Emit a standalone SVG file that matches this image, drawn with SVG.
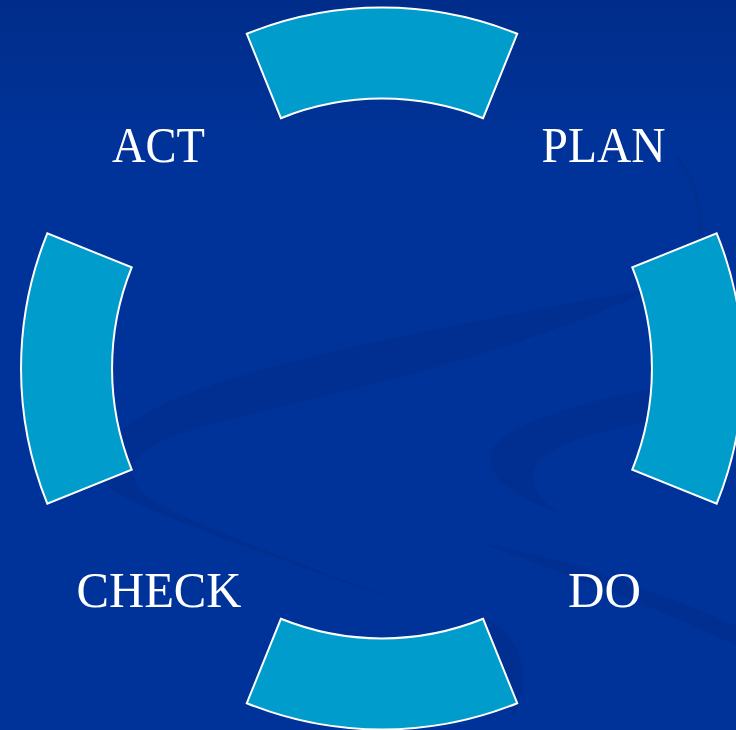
<svg xmlns="http://www.w3.org/2000/svg" width="736" height="730" viewBox="0 0 736 730">
  <defs>
    <linearGradient id="bg" x1="0" y1="0" x2="0" y2="1">
      <stop offset="0" stop-color="#002d8a"/>
      <stop offset="0.2" stop-color="#003399"/>
      <stop offset="1" stop-color="#003399"/>
    </linearGradient>
  </defs>
  <style>
    .seg { fill: #009dcc; stroke: #ffffff; stroke-width: 2; stroke-linejoin: miter; }
    .lbl { font-family: "Liberation Serif", "Times New Roman", serif; font-size: 50px; fill: #ffffff; text-anchor: middle; }
    .sw { fill: #002a85; opacity: 0.4; }
  </style>
  <rect x="0" y="0" width="736" height="730" fill="url(#bg)"/>
  <g id="background">
    <path class="sw" d="M655,288 C560,305 300,350 190,393 C120,420 90,450 105,485 C150,520 350,580 500,640 C380,592 230,540 160,505 C120,482 125,455 171,437 C250,407 480,372 655,288 Z"/>
    <path class="sw" d="M736,378 C640,385 520,415 495,445 C475,475 520,500 560,513 C530,495 525,470 545,455 C580,432 650,418 736,412 Z"/>
    <path class="sw" opacity="0.25" d="M480,543 C560,555 680,600 736,626 L736,645 C680,620 620,592 480,543 Z"/>
    <path class="sw" d="M483,618 C515,628 535,670 515,716 L505,705 Z"/>
    <path fill="none" stroke="#002a85" stroke-width="4" opacity="0.3" d="M676,156 C695,180 703,210 700,236"/>
  </g>
  <g id="connectors">
    <g id="seg-top"><path class="seg" d="M246.8,33.8 A361,361 0 0,1 517.2,33.8 L483.1,118.2 A270,270 0 0,0 280.9,118.2 Z"/></g>
    <g id="seg-right"><path class="seg" d="M716.7,233.3 A361,361 0 0,1 716.7,503.7 L632.3,469.6 A270,270 0 0,0 632.3,267.4 Z"/></g>
    <g id="seg-bottom"><path class="seg" d="M517.2,703.2 A361,361 0 0,1 246.8,703.2 L280.9,618.8 A270,270 0 0,0 483.1,618.8 Z"/></g>
    <g id="seg-left"><path class="seg" d="M47.3,503.7 A361,361 0 0,1 47.3,233.3 L131.7,267.4 A270,270 0 0,0 131.7,469.6 Z"/></g>
  </g>
  <g id="node-act"><text class="lbl" x="158.5" y="162" textLength="93" lengthAdjust="spacingAndGlyphs">ACT</text></g>
  <g id="node-plan"><text class="lbl" x="603.5" y="162" textLength="124" lengthAdjust="spacingAndGlyphs">PLAN</text></g>
  <g id="node-check"><text class="lbl" x="159" y="607" textLength="165" lengthAdjust="spacingAndGlyphs">CHECK</text></g>
  <g id="node-do"><text class="lbl" x="604.5" y="607" textLength="73" lengthAdjust="spacingAndGlyphs">DO</text></g>
</svg>
